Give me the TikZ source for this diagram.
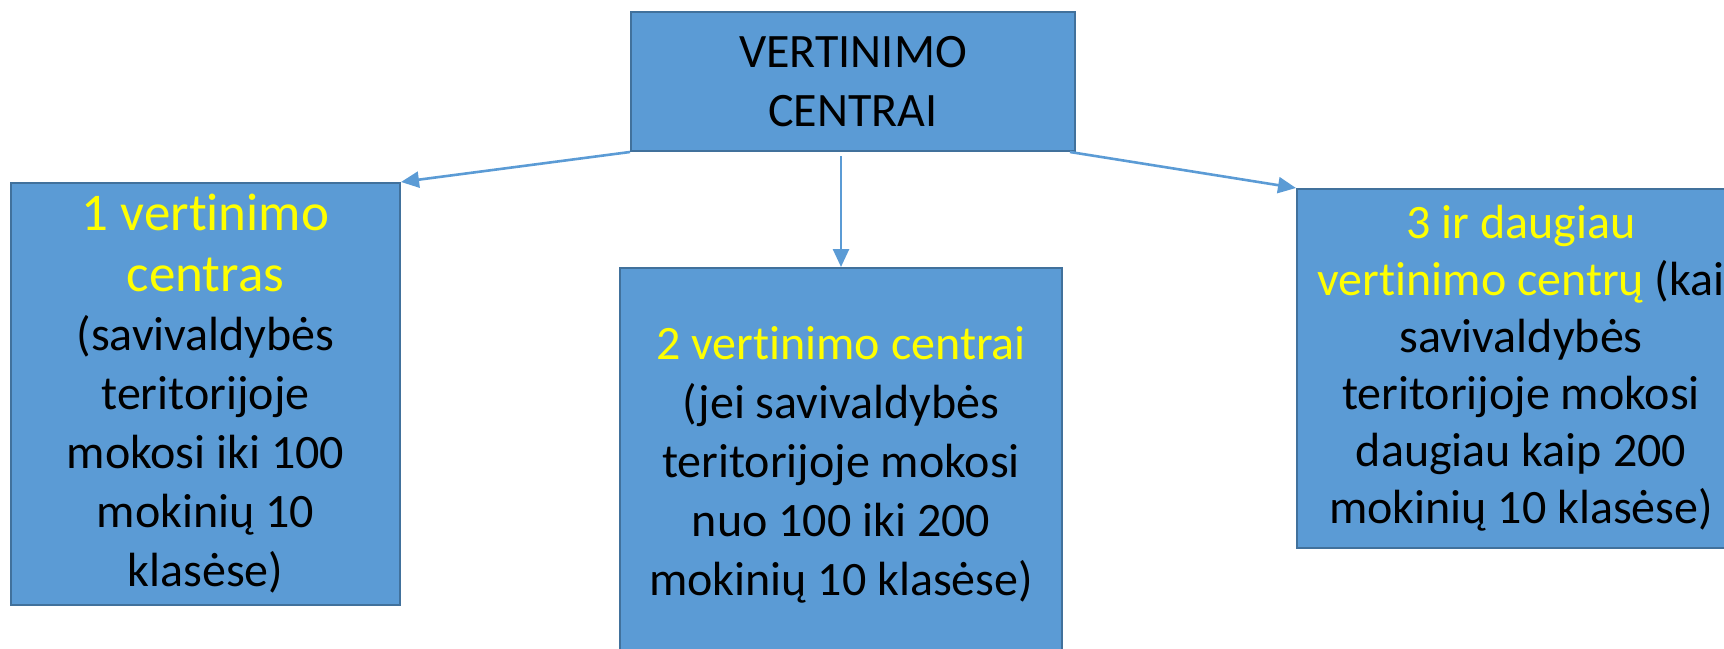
\documentclass[tikz,border=0pt]{standalone}
\usepackage{fontspec}
\setmainfont{Carlito}[RawFeature={-liga;-clig;-dlig;-calt}]
\usetikzlibrary{arrows.meta}
\definecolor{boxblue}{HTML}{5B9BD5}
\definecolor{boxedge}{HTML}{41719C}
\definecolor{txtyellow}{HTML}{FFFF00}
\newcommand{\geltona}[2]{{\color{txtyellow}\fontsize{#1}{30}\selectfont #2}}
\tikzset{
  centrebox/.style={rectangle, draw=boxedge, fill=boxblue, line width=1pt, inner sep=0pt,
    align=center, font=\fontsize{24}{29.5}\selectfont},
  link/.style={draw=boxblue, line width=1.3pt, -{Triangle[length=9pt,width=8pt]}}
}
\begin{document}
\begin{tikzpicture}[x=0.5pt, y=-0.5pt]
				\useasboundingbox (0, 0) rectangle (1724, 648);
				\clip (0, 0) rectangle (1724, 648);
				\node[centrebox, minimum width=222pt, minimum height=69.5pt] (top) at (853, 81.5) {VERTINIMO\\CENTRAI};
				\node[centrebox, minimum width=194.5pt, minimum height=211pt] (c1) at (205.5, 394) {\geltona{26.5pt}{1 vertinimo}\\[1pt]\geltona{26.5pt}{centras}\\(savivaldybės\\teritorijoje\\mokosi iki 100\\mokinių 10\\klasėse)};
				\node[centrebox, minimum width=221pt, minimum height=197pt] (c2) at (841, 465) {\geltona{24pt}{2 vertinimo centrai}\\(jei savivaldybės\\teritorijoje mokosi\\nuo 100 iki 200\\mokinių 10 klasėse)};
				\node[centrebox, minimum width=224pt, minimum height=179.5pt, font=\fontsize{24}{28.5}\selectfont] (c3) at (1521, 368.5) {\geltona{24pt}{3 ir daugiau}\\\geltona{24pt}{vertinimo centrų} (kai\\savivaldybės\\teritorijoje mokosi\\daugiau kaip 200\\mokinių 10 klasėse)};
				\draw[link] (top.south west) -- (c1.north east);
				\draw[link] ([yshift=-2pt]top.south -| c2.north) -- (c2.north);
				\draw[link] ([xshift=-3pt]top.south east) -- (c3.north west);
			\end{tikzpicture}
\end{document}
